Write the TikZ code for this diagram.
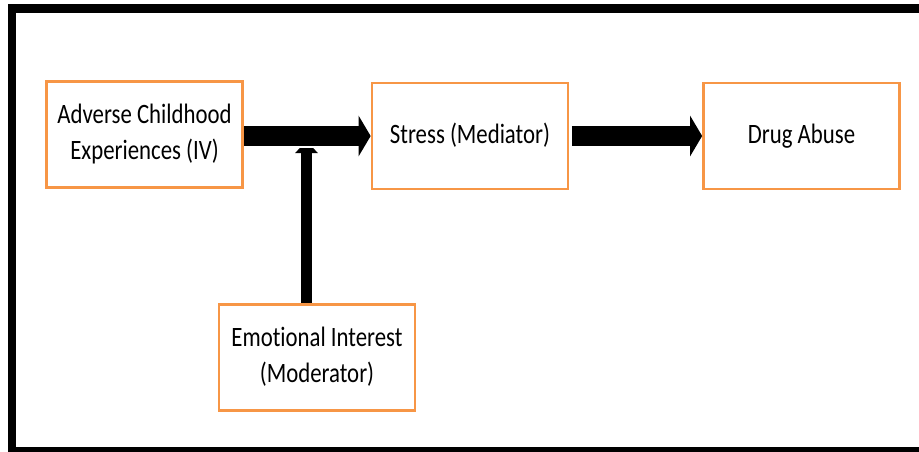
\documentclass[tikz,border=0pt]{standalone}
\usepackage{fontspec}
\usepackage{graphicx}
\setmainfont{Carlito}[Ligatures=NoCommon]
\usetikzlibrary{arrows.meta}
\definecolor{boxorange}{HTML}{F79646}
\newcommand{\vtxt}[1]{\scalebox{1}[1.23]{\fontsize{22.8}{29.5}\selectfont\begin{tabular}{@{}c@{}}#1\end{tabular}}}
\tikzset{
  varbox/.style={draw=boxorange, line width=2.7pt, fill=white, minimum width=196pt, minimum height=106pt, inner sep=0pt},
  bigarrow/.style={line width=19.5pt, -{Triangle[length=12pt,width=40pt]}},
  modarrow/.style={line width=11pt, -{Triangle[length=12pt,width=22pt]}},
  framestyle/.style={line width=8.5pt}
}
\begin{document}
\begin{tikzpicture}[x=1pt,y=-1pt]
\useasboundingbox (0,0) rectangle (919,451);
\clip (0,0) rectangle (919,451);
\fill[white] (0,0) rectangle (919,451);
% boxes
\node[varbox] (ace) at (144.5,134.5) {\vtxt{Adverse Childhood\\Experiences (IV)}};
\node[varbox] (stress) at (470,136) {\vtxt{Stress (Mediator)}};
\node[varbox] (drug) at (801.5,136) {\vtxt{Drug Abuse}};
\node[varbox] (emo) at (317,357.5) {\vtxt{Emotional Interest\\(Moderator)}};
% moderator arrow
\coordinate (vt) at (306.5,141);
\draw[modarrow] (emo.north -| vt) -- (vt);
% thin white gap around main shaft
\coordinate (ga) at (290,136.5);
\coordinate (gb) at (325,136.5);
\draw[white, line width=23pt] (ga) -- (gb);
% main arrows
\draw[bigarrow] (stress.west -| ace.east) -- (stress.west);
\draw[bigarrow] ([xshift=2.5pt]stress.east) -- (drug.west);
% frame
\coordinate (f1) at (12,460);
\coordinate (f2) at (12,8.3);
\coordinate (f3) at (930,8.3);
\coordinate (f4) at (12,451.5);
\coordinate (f5) at (930,451.5);
\draw[framestyle] (f1) -- (f2) -- (f3);
\draw[framestyle] (f4) -- (f5);
\end{tikzpicture}
\end{document}
